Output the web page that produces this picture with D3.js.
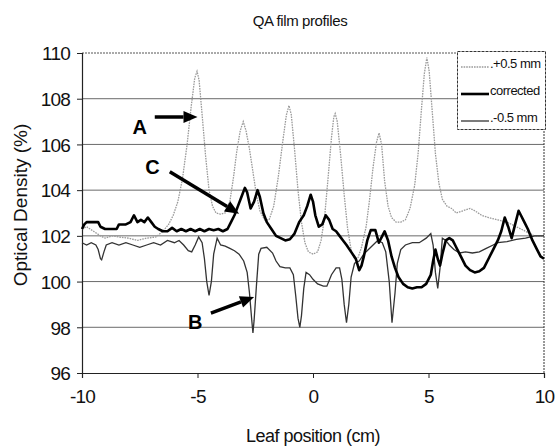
<!DOCTYPE html>
<html>
<head>
<meta charset="utf-8">
<script src="https://cdn.jsdelivr.net/npm/d3@7"></script>
<style>
  html, body { margin: 0; padding: 0; background: #fff; }
  svg { display: block; font-family: "Liberation Sans", Arial, sans-serif; }
</style>
</head>
<body>
<svg id="chart" width="558" height="447"></svg>
<script>
// ---------- data ----------
const chartTitle = "QA film profiles";
const xTitle = "Leaf position (cm)";
const yTitle = "Optical Density (%)";
const xTicks = [-10, -5, 0, 5, 10];
const yTicks = [96, 98, 100, 102, 104, 106, 108, 110];
const seriesNames = [".+0.5 mm", "corrected", ".-0.5 mm"];

// +0.5 mm profile [position cm, optical density %]
const plusHalf = [
  [-10,102.3],[-9.8,102.4],[-9.5,102.2],[-9.2,102.0],[-9.0,101.9],[-8.7,102.0],[-8.4,101.95],
  [-8.0,101.9],[-7.6,101.8],[-7.2,101.9],[-6.8,101.95],[-6.5,102.2],[-6.25,102.5],[-6.05,102.9],
  [-5.85,103.5],[-5.65,104.5],[-5.45,106.0],[-5.28,107.6],[-5.12,108.9],[-5.02,109.2],[-4.93,108.8],
  [-4.8,107.3],[-4.65,105.5],[-4.5,104.0],[-4.35,103.3],[-4.2,103.0],[-4.0,102.95],[-3.8,103.0],
  [-3.6,103.5],[-3.45,104.5],[-3.3,105.7],[-3.15,106.6],[-3.02,107.0],[-2.9,106.6],[-2.75,105.8],
  [-2.6,104.8],[-2.45,103.8],[-2.3,103.1],[-2.1,102.7],[-1.9,102.7],[-1.7,103.3],[-1.5,104.6],
  [-1.3,106.2],[-1.15,107.3],[-1.04,107.7],[-0.94,107.3],[-0.8,105.8],[-0.65,104.0],[-0.5,102.6],
  [-0.35,101.7],[-0.2,101.3],[0.0,101.2],[0.2,101.3],[0.35,101.8],[0.5,102.8],[0.65,104.5],
  [0.8,106.3],[0.9,107.2],[0.96,107.35],[1.05,107.0],[1.2,105.5],[1.35,103.8],[1.5,102.3],
  [1.65,101.4],[1.8,101.0],[1.95,101.05],[2.1,101.5],[2.3,102.4],[2.45,103.6],[2.6,105.0],
  [2.75,106.1],[2.86,106.5],[2.97,106.0],[3.1,104.4],[3.25,103.3],[3.4,102.8],[3.6,102.6],
  [3.8,102.6],[4.0,102.7],[4.2,103.2],[4.4,104.2],[4.55,105.6],[4.7,107.6],[4.82,109.1],
  [4.93,109.8],[5.03,109.2],[5.15,107.6],[5.3,105.6],[5.45,104.3],[5.6,103.6],[5.8,103.3],
  [6.0,103.2],[6.2,103.0],[6.5,103.1],[6.8,103.2],[7.0,103.1],[7.3,102.9],[7.6,102.8],
  [8.0,102.7],[8.4,102.6],[8.8,102.4],[9.2,102.2],[9.6,102.0],[10,102.0]
];

// corrected profile
const corrected = [
  [-10,102.3],[-9.9,102.5],[-9.8,102.6],[-9.5,102.6],[-9.3,102.6],[-9.2,102.4],[-9.0,102.3],
  [-8.7,102.3],[-8.5,102.3],[-8.4,102.5],[-8.1,102.5],[-7.9,102.6],[-7.75,102.9],[-7.6,102.6],
  [-7.45,102.7],[-7.3,102.6],[-7.15,102.8],[-7.0,102.6],[-6.85,102.4],[-6.7,102.3],[-6.5,102.2],
  [-6.3,102.2],[-6.1,102.35],[-5.9,102.2],[-5.7,102.3],[-5.5,102.2],[-5.3,102.3],[-5.1,102.2],
  [-4.9,102.3],[-4.7,102.2],[-4.5,102.3],[-4.3,102.25],[-4.1,102.3],[-3.9,102.2],[-3.7,102.3],
  [-3.55,102.6],[-3.4,102.9],[-3.25,103.3],[-3.1,103.7],[-2.95,104.1],[-2.85,103.9],[-2.7,103.2],
  [-2.55,103.5],[-2.4,104.0],[-2.3,103.7],[-2.15,103.0],[-2.0,102.6],[-1.8,102.3],[-1.6,102.0],
  [-1.4,101.9],[-1.2,101.8],[-1.0,101.85],[-0.8,102.1],[-0.6,102.6],[-0.4,102.9],[-0.25,103.3],
  [-0.1,103.8],[0.0,103.5],[0.1,102.9],[0.25,102.4],[0.4,102.5],[0.55,102.9],[0.7,102.7],
  [0.85,102.3],[1.0,102.2],[1.15,102.0],[1.3,101.8],[1.45,101.6],[1.65,101.3],[1.85,101.0],
  [2.0,100.5],[2.1,100.7],[2.2,101.1],[2.35,101.8],[2.5,102.25],[2.7,102.25],[2.85,101.7],
  [3.0,102.0],[3.1,102.2],[3.25,101.8],[3.4,101.1],[3.55,100.6],[3.7,100.2],[3.9,99.9],
  [4.1,99.75],[4.3,99.7],[4.5,99.75],[4.7,99.75],[4.9,99.9],[5.1,100.3],[5.2,100.9],
  [5.3,101.4],[5.4,101.0],[5.5,100.7],[5.6,101.2],[5.75,101.8],[5.9,101.9],[6.05,101.8],
  [6.2,101.5],[6.4,101.1],[6.6,100.7],[6.8,100.5],[7.0,100.4],[7.2,100.45],[7.4,100.6],
  [7.6,101.0],[7.8,101.4],[8.0,101.8],[8.15,102.2],[8.3,102.8],[8.45,102.4],[8.6,101.9],
  [8.75,102.5],[8.9,103.1],[9.0,102.9],[9.15,102.6],[9.3,102.3],[9.5,101.8],[9.7,101.4],
  [9.85,101.1],[10,101.0]
];

// -0.5 mm profile
const minusHalf = [
  [-10,101.7],[-9.8,101.6],[-9.6,101.7],[-9.4,101.6],[-9.3,101.4],[-9.2,101.0],[-9.15,100.95],
  [-9.05,101.3],[-8.95,101.6],[-8.7,101.7],[-8.4,101.6],[-8.1,101.7],[-7.8,101.6],[-7.5,101.5],
  [-7.2,101.6],[-6.9,101.7],[-6.6,101.6],[-6.3,101.8],[-6.0,101.7],[-5.8,101.8],[-5.6,101.6],
  [-5.4,101.35],[-5.25,101.3],[-5.1,101.6],[-4.95,101.95],[-4.8,101.7],[-4.7,101.0],[-4.6,100.0],
  [-4.5,99.4],[-4.4,100.0],[-4.3,101.2],[-4.15,101.9],[-4.0,101.6],[-3.8,101.55],[-3.6,101.45],
  [-3.4,101.35],[-3.2,101.2],[-3.0,100.9],[-2.85,100.4],[-2.75,99.5],[-2.65,98.3],[-2.6,97.75],
  [-2.55,98.3],[-2.45,99.8],[-2.35,101.2],[-2.25,101.45],[-2.0,101.5],[-1.75,101.25],
  [-1.6,100.9],[-1.43,100.65],[-1.2,100.6],[-1.0,100.6],[-0.85,100.3],[-0.75,99.4],[-0.65,98.4],
  [-0.57,98.0],[-0.5,98.5],[-0.4,99.7],[-0.3,100.4],[-0.15,100.3],[0.0,100.1],[0.2,99.9],
  [0.45,99.8],[0.6,99.8],[0.8,100.3],[1.0,100.6],[1.15,100.6],[1.25,100.1],[1.35,99.0],
  [1.45,98.2],[1.55,99.0],[1.65,100.2],[1.8,100.8],[2.0,100.9],[2.2,101.2],[2.4,101.4],
  [2.6,101.6],[2.8,101.8],[3.0,101.7],[3.15,101.3],[3.3,100.0],[3.42,98.2],[3.55,99.5],
  [3.65,100.8],[3.8,101.4],[4.0,101.6],[4.3,101.7],[4.6,101.7],[4.9,101.9],[5.1,102.1],
  [5.2,101.6],[5.3,100.4],[5.4,99.7],[5.5,100.6],[5.6,101.9],[5.75,101.8],[5.9,101.6],
  [6.1,101.4],[6.35,101.25],[6.6,101.3],[6.9,101.25],[7.2,101.3],[7.5,101.45],[7.8,101.6],
  [8.0,101.7],[8.4,101.75],[8.8,101.85],[9.2,101.9],[9.6,102.0],[10,102.0]
];

// annotations: label, label position, arrow start, arrow tip (data units)
const annotLabels = ["A", "C", "B"];
const annotLabelPos = [[-7.5, 106.75], [-6.95, 105.0], [-5.1, 98.25]];
const annotFrom = [[-6.85, 107.2], [-6.2, 104.8], [-4.42, 98.62]];
const annotTo = [[-5.0, 107.2], [-3.2, 102.97], [-2.55, 99.32]];

// ---------- drawing ----------
const svg = d3.select("#chart");
const x = d3.scaleLinear().domain([-10, 10]).range([82, 544]);
const y = d3.scaleLinear().domain([96, 110]).range([373, 53]);
const FONT = "'Liberation Sans', Arial, sans-serif";

// title
svg.append("text").attr("x", 300).attr("y", 26).attr("text-anchor", "middle")
  .attr("font-size", 15).attr("letter-spacing", -0.4).attr("fill", "#111").text(chartTitle);

// gridlines
const grid = svg.append("g");
grid.selectAll("line").data(yTicks.filter(d => d > 96 && d < 110)).join("line")
  .attr("x1", x(-10)).attr("x2", x(10))
  .attr("y1", d => y(d)).attr("y2", d => y(d))
  .attr("stroke", "#6a6a6a").attr("stroke-width", 1);
// top border dotted
svg.append("line").attr("x1", x(-10)).attr("x2", x(10)).attr("y1", y(110)).attr("y2", y(110))
  .attr("stroke", "#555").attr("stroke-width", 1).attr("stroke-dasharray", "2,1");
// right border dotted
svg.append("line").attr("x1", x(10)).attr("x2", x(10)).attr("y1", y(110)).attr("y2", y(96))
  .attr("stroke", "#333").attr("stroke-width", 1).attr("stroke-dasharray", "2,1");

// axes
const fmt = d => String(d);
const yAxis = d3.axisLeft(y).tickValues(yTicks).tickSize(5).tickPadding(7).tickFormat(fmt);
const gy = svg.append("g").attr("transform", `translate(${x(-10)},0)`).call(yAxis);
const xAxis = d3.axisBottom(x).tickValues(xTicks).tickSize(5).tickPadding(12).tickFormat(fmt);
const gx = svg.append("g").attr("transform", `translate(0,${y(96)})`).call(xAxis);
[gx, gy].forEach(g => {
  g.select(".domain").attr("stroke", "#222").attr("stroke-width", 1.2);
  g.selectAll(".tick line").attr("stroke", "#222");
  g.selectAll(".tick text").attr("font-family", FONT).attr("font-size", 19)
    .attr("letter-spacing", -0.8).attr("fill", "#111");
});
gy.selectAll(".tick text").attr("dy", "0.36em");

// axis titles
svg.append("text").attr("x", 313).attr("y", 442).attr("text-anchor", "middle")
  .attr("font-size", 18).attr("letter-spacing", -0.5).attr("fill", "#111").text(xTitle);
svg.append("text").attr("transform", "translate(27,205) rotate(-90)").attr("text-anchor", "middle")
  .attr("font-size", 19).attr("letter-spacing", 0).attr("fill", "#111").text(yTitle);

// lines
const line = d3.line().x(d => x(d[0])).y(d => y(d[1])).curve(d3.curveLinear);
svg.append("path").datum(plusHalf).attr("d", line).attr("fill", "none")
  .attr("stroke", "#9a9a9a").attr("stroke-width", 1.3).attr("stroke-dasharray", "1.6,1");
svg.append("path").datum(minusHalf).attr("d", line).attr("fill", "none")
  .attr("stroke", "#333").attr("stroke-width", 1.3);
svg.append("path").datum(corrected).attr("d", line).attr("fill", "none")
  .attr("stroke", "#000").attr("stroke-width", 2.6).attr("stroke-linejoin", "round");

// annotations
annotLabels.forEach((lab, i) => {
  svg.append("text").attr("x", x(annotLabelPos[i][0])).attr("y", y(annotLabelPos[i][1]))
    .attr("dy", "0.36em").attr("text-anchor", "middle").attr("font-size", 20)
    .attr("font-weight", "bold").attr("fill", "#000").text(lab);
  const x0 = x(annotFrom[i][0]), y0 = y(annotFrom[i][1]);
  const x1 = x(annotTo[i][0]), y1 = y(annotTo[i][1]);
  const ang = Math.atan2(y1 - y0, x1 - x0);
  const L = 14, W = 6;
  const bx = x1 - L * Math.cos(ang), by = y1 - L * Math.sin(ang);
  svg.append("line").attr("x1", x0).attr("y1", y0).attr("x2", bx).attr("y2", by)
    .attr("stroke", "#000").attr("stroke-width", 3.5);
  const p1 = [bx + W * Math.sin(ang), by - W * Math.cos(ang)];
  const p2 = [bx - W * Math.sin(ang), by + W * Math.cos(ang)];
  svg.append("path").attr("d", `M${x1},${y1}L${p1[0]},${p1[1]}L${p2[0]},${p2[1]}Z`).attr("fill", "#000");
});

// legend
const lg = svg.append("g");
lg.append("rect").attr("x", 457.5).attr("y", 51.5).attr("width", 88).attr("height", 78)
  .attr("fill", "#fff").attr("stroke", "#333").attr("stroke-width", 1).attr("stroke-dasharray", "3,1");
const legStyles = [
  {stroke: "#9a9a9a", w: 1.3, dash: "1.6,1"},
  {stroke: "#000", w: 2.6, dash: null},
  {stroke: "#333", w: 1.3, dash: null}
];
seriesNames.forEach((name, i) => {
  const cy = 63 + i * 27;
  lg.append("line").attr("x1", 461).attr("x2", 489).attr("y1", cy + 4).attr("y2", cy + 4)
    .attr("stroke", legStyles[i].stroke).attr("stroke-width", legStyles[i].w)
    .attr("stroke-dasharray", legStyles[i].dash);
  lg.append("text").attr("x", 490).attr("y", cy).attr("dy", "0.36em")
    .attr("font-size", 13).attr("letter-spacing", -0.5).attr("fill", "#111").text(name);
});
</script>
</body>
</html>
